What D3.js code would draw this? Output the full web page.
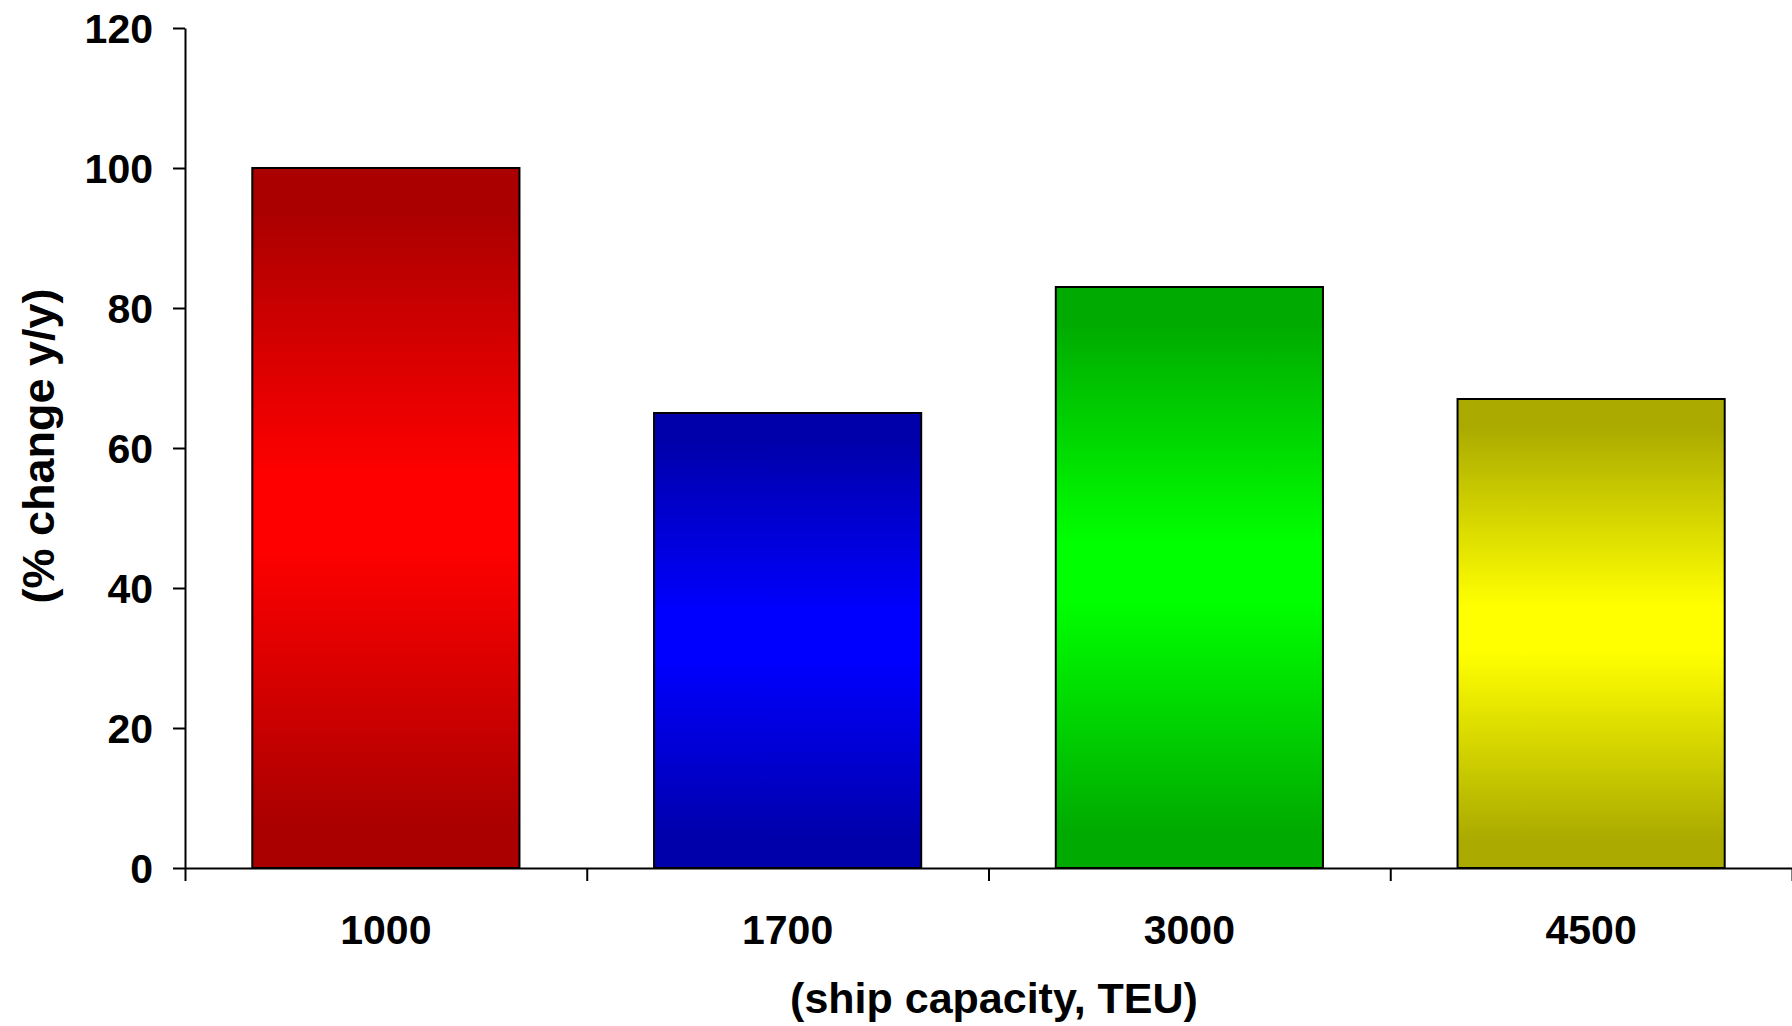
<!DOCTYPE html>
<html>
<head>
<meta charset="utf-8">
<script src="https://cdn.jsdelivr.net/npm/d3@7"></script>
<style>
  body { margin: 0; background: #fff; }
  svg { display: block; }
  text { font-family: "Liberation Sans", Arial, sans-serif; font-weight: bold; fill: #000; }
</style>
</head>
<body>
<svg id="canvas" width="1792" height="1026"></svg>
<script>
// ship capacity classes and their % change
const capacities = ["1000", "1700", "3000", "4500"];
const changes = [100, 65, 83, 67];
const yTicks = [0, 20, 40, 60, 80, 100, 120];

// dark edge / bright centre for each bar
const barColors = [
  ["#aa0000", "#ff0000"],
  ["#0000aa", "#0000ff"],
  ["#00aa00", "#00ff00"],
  ["#aaaa00", "#ffff00"],
];

const svg = d3.select("#canvas");
const plotLeft = 185, plotRight = 1792, plotTop = 28, plotBottom = 868;

const x = d3.scaleBand()
  .domain(capacities)
  .range([plotLeft, plotRight])
  .paddingInner(0.335)
  .paddingOuter(0.1675);
const y = d3.scaleLinear().domain([0, 120]).range([plotBottom, plotTop]);

// gradients, dark at the ends and bright in the middle
const defs = svg.append("defs");
barColors.forEach((c, i) => {
  const g = defs.append("linearGradient")
    .attr("id", "grad" + i)
    .attr("x1", 0).attr("y1", 0)
    .attr("x2", 0).attr("y2", 1);
  g.append("stop").attr("offset", "0").attr("stop-color", c[0]);
  g.append("stop").attr("offset", "0.06").attr("stop-color", c[0]);
  g.append("stop").attr("offset", "0.44").attr("stop-color", c[1]);
  g.append("stop").attr("offset", "0.54").attr("stop-color", c[1]);
  g.append("stop").attr("offset", "0.94").attr("stop-color", c[0]);
  g.append("stop").attr("offset", "1").attr("stop-color", c[0]);
});

svg.selectAll("rect.bar")
  .data(changes)
  .enter()
  .append("rect")
  .attr("class", "bar")
  .attr("x", (d, i) => x(capacities[i]))
  .attr("y", (d) => y(d))
  .attr("width", x.bandwidth())
  .attr("height", (d) => y(0) - y(d))
  .attr("fill", (d, i) => "url(#grad" + i + ")")
  .attr("stroke", "#000")
  .attr("stroke-width", 2);

// y axis
const yAxis = svg.append("g")
  .attr("transform", `translate(${plotLeft},0)`)
  .call(d3.axisLeft(y).tickValues(yTicks).tickSize(12).tickSizeOuter(0).tickPadding(20));
yAxis.selectAll("path, line").attr("stroke", "#000").attr("stroke-width", 2);
yAxis.selectAll("text").style("font-size", "41px").attr("fill", "#000").attr("dy", "0.36em");

// x axis: ticks at category boundaries
const xEdge = d3.scaleLinear().domain([0, capacities.length]).range([plotLeft, plotRight]);
const xAxis = svg.append("g")
  .attr("transform", `translate(0,${plotBottom})`)
  .call(d3.axisBottom(xEdge).ticks(capacities.length).tickFormat("").tickSize(13).tickSizeOuter(0));
xAxis.selectAll("path, line").attr("stroke", "#000").attr("stroke-width", 2);

// x labels
svg.append("g")
  .attr("transform", `translate(0,${plotBottom})`)
  .call(d3.axisBottom(x).tickSize(0).tickPadding(47))
  .call((g) => g.select(".domain").remove())
  .selectAll("text")
  .style("font-size", "41px")
  .attr("fill", "#000");

// titles
svg.append("text")
  .attr("x", 994)
  .attr("y", 1013)
  .attr("text-anchor", "middle")
  .style("font-size", "43px")
  .text("(ship capacity, TEU)");

svg.append("text")
  .attr("transform", "translate(54,446) rotate(-90)")
  .attr("text-anchor", "middle")
  .style("font-size", "45px")
  .text("(% change y/y)");
</script>
</body>
</html>
